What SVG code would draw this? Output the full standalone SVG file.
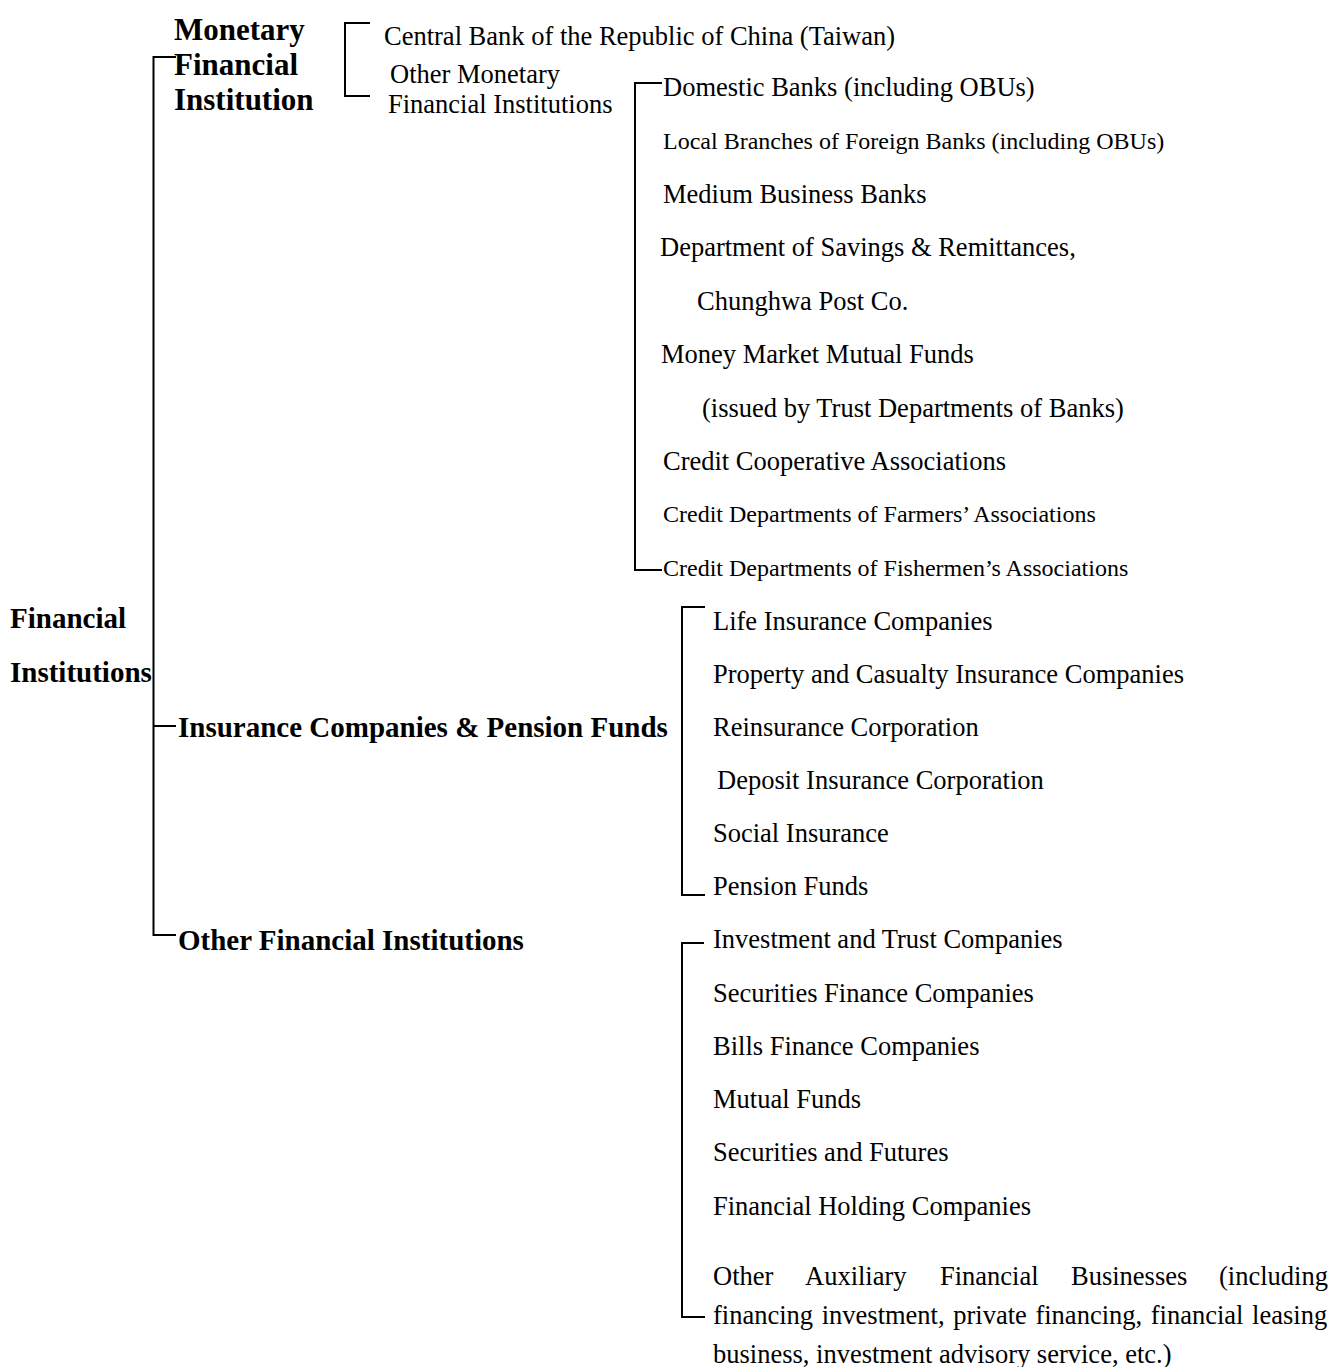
<svg xmlns="http://www.w3.org/2000/svg" width="1331" height="1367" viewBox="0 0 1331 1367">
<style>
.b{font-family:"Liberation Serif","Times New Roman",serif;font-weight:bold;fill:#000}
.t{font-family:"Liberation Serif","Times New Roman",serif;font-size:26.5px;fill:#000}
.s{font-size:24px}
.ln{stroke:#000;stroke-width:2;fill:none}
</style>
<rect width="1331" height="1367" fill="#fff"/>
<g id="connectors" class="ln">
<path d="M176,57 H153.5 V935 H176"/>
<path d="M153.5,726 H176"/>
<path d="M370,23 H345 V96 H370"/>
<path d="M662,83 H635 V570 H662"/>
<path d="M705,607 H682 V895 H705"/>
<path d="M704,943 H682 V1317 H705"/>
</g>
<g id="root"><text class="b" font-size="29" x="10" y="628">Financial</text><text class="b" font-size="29" x="10" y="682">Institutions</text></g>
<g id="monetary"><text class="b" font-size="31" x="174" y="40">Monetary</text><text class="b" font-size="31" x="174" y="75">Financial</text><text class="b" font-size="31" x="174" y="110">Institution</text></g>
<g id="insurance"><text class="b" font-size="29" x="178" y="737">Insurance Companies &amp; Pension Funds</text></g>
<g id="otherfin"><text class="b" font-size="29" x="178" y="950">Other Financial Institutions</text></g>
<g id="centralbank"><text class="t" x="384" y="45">Central Bank of the Republic of China (Taiwan)</text></g>
<g id="othermonetary"><text class="t" x="390" y="83">Other Monetary</text><text class="t" x="388" y="113">Financial Institutions</text></g>
<g id="omfi-items">
<text class="t" x="663" y="96">Domestic Banks (including OBUs)</text>
<text class="t s" x="663" y="149">Local Branches of Foreign Banks (including OBUs)</text>
<text class="t" x="663" y="203">Medium Business Banks</text>
<text class="t" x="660" y="256">Department of Savings &amp; Remittances,</text>
<text class="t" x="697" y="310">Chunghwa Post Co.</text>
<text class="t" x="661" y="363">Money Market Mutual Funds</text>
<text class="t" x="702" y="417">(issued by Trust Departments of Banks)</text>
<text class="t" x="663" y="470">Credit Cooperative Associations</text>
<text class="t s" x="663" y="522">Credit Departments of Farmers’ Associations</text>
<text class="t s" x="663" y="576">Credit Departments of Fishermen’s Associations</text>
</g>
<g id="insurance-items">
<text class="t" x="713" y="630">Life Insurance Companies</text>
<text class="t" x="713" y="683">Property and Casualty Insurance Companies</text>
<text class="t" x="713" y="736">Reinsurance Corporation</text>
<text class="t" x="717" y="789">Deposit Insurance Corporation</text>
<text class="t" x="713" y="842">Social Insurance</text>
<text class="t" x="713" y="895">Pension Funds</text>
</g>
<g id="other-items">
<text class="t" x="713" y="948">Investment and Trust Companies</text>
<text class="t" x="713" y="1002">Securities Finance Companies</text>
<text class="t" x="713" y="1055">Bills Finance Companies</text>
<text class="t" x="713" y="1108">Mutual Funds</text>
<text class="t" x="713" y="1161">Securities and Futures</text>
<text class="t" x="713" y="1215">Financial Holding Companies</text>
<text class="t" y="1285"><tspan x="713">Other</tspan><tspan x="805">Auxiliary</tspan><tspan x="940">Financial</tspan><tspan x="1071">Businesses</tspan><tspan x="1219">(including</tspan></text>
<text class="t" x="713" y="1324" word-spacing="2">financing investment, private financing, financial leasing</text>
<text class="t" x="713" y="1363">business, investment advisory service, etc.)</text>
</g>
</svg>
